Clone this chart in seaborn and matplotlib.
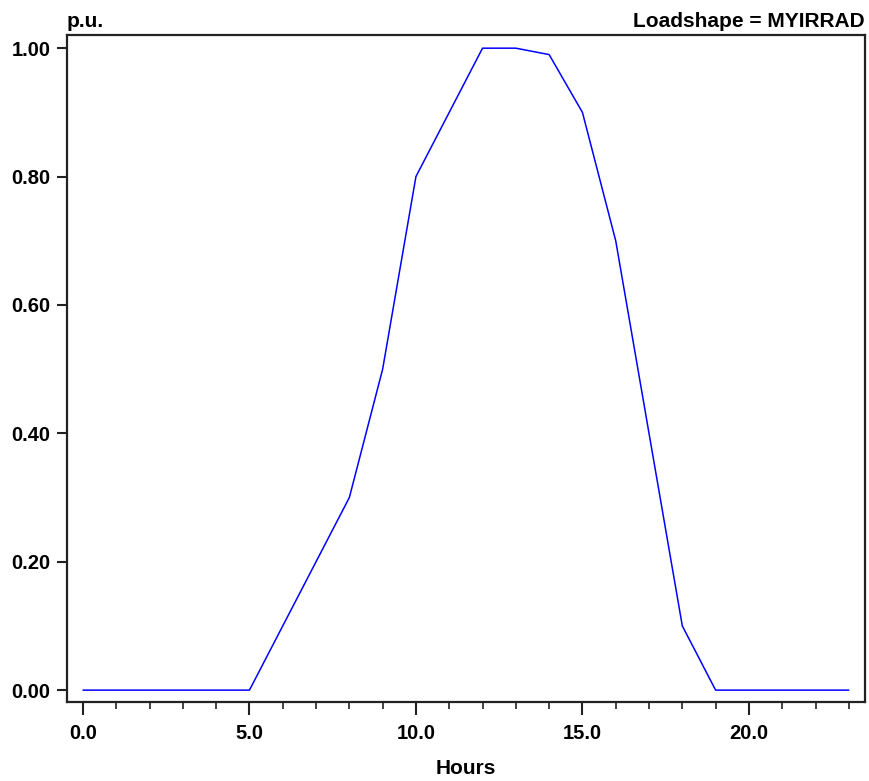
import matplotlib
matplotlib.use("Agg")
import matplotlib.pyplot as plt
import pandas as pd
import seaborn as sns
from matplotlib.ticker import MultipleLocator, FormatStrFormatter

# hourly irradiance loadshape (p.u.)
hours = list(range(24))
pu = [0, 0, 0, 0, 0, 0, 0.1, 0.2, 0.3, 0.5, 0.8, 0.9,
      1.0, 1.0, 0.99, 0.9, 0.7, 0.4, 0.1, 0, 0, 0, 0, 0]

df = pd.DataFrame({"Hours": hours, "pu": pu})

sns.set_style("white")
plt.rcParams["font.family"] = ["Liberation Sans", "DejaVu Sans"]
plt.rcParams["font.weight"] = "bold"
plt.rcParams["text.color"] = "black"
plt.rcParams["axes.labelcolor"] = "black"

fig = plt.figure(figsize=(8.7, 7.81), dpi=100)
ax = fig.add_axes([0.077, 0.101, 0.917, 0.854])

sns.lineplot(data=df, x="Hours", y="pu", color="#0000ff", linewidth=1.1, ax=ax)

ax.set_xlim(-0.48, 23.48)
ax.set_ylim(-0.0187, 1.0203)
ax.xaxis.set_major_locator(MultipleLocator(5))
ax.xaxis.set_minor_locator(MultipleLocator(1))
ax.yaxis.set_major_locator(MultipleLocator(0.2))
ax.xaxis.set_major_formatter(FormatStrFormatter("%.1f"))
ax.yaxis.set_major_formatter(FormatStrFormatter("%.2f"))

ax.tick_params(axis="x", which="major", direction="out", length=9, width=1.5,
               colors="#222222", labelcolor="black", labelsize=14.5, pad=7, bottom=True)
ax.tick_params(axis="x", which="minor", direction="out", length=5, width=1.2,
               colors="#222222", bottom=True)
ax.tick_params(axis="y", which="major", direction="out", length=7, width=1.5,
               colors="#222222", labelcolor="black", labelsize=14.5, pad=5, left=True)
for lbl in ax.get_xticklabels() + ax.get_yticklabels():
    lbl.set_fontweight("bold")

for s in ax.spines.values():
    s.set_color("#222222")
    s.set_linewidth(1.6)

ax.set_xlabel("Hours", fontsize=15, fontweight="bold", labelpad=11)
ax.set_ylabel("")
ax.set_title("p.u.", loc="left", fontsize=15, fontweight="bold", pad=6)
ax.set_title("Loadshape = MYIRRAD", loc="right", fontsize=15, fontweight="bold", pad=6)

fig.savefig("out.png", dpi=100)
